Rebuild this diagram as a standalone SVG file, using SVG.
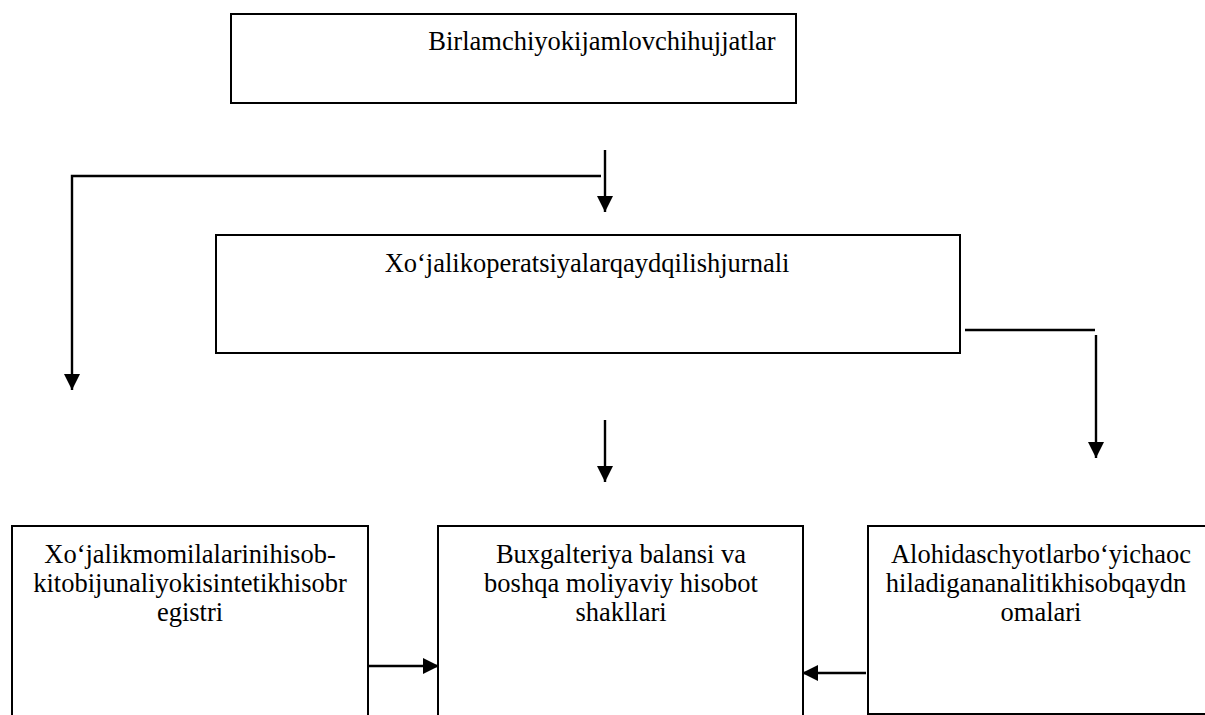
<svg xmlns="http://www.w3.org/2000/svg" width="1205" height="715" viewBox="0 0 1205 715">
<style>
.box{fill:#fff;stroke:#000;stroke-width:2}
.t{font-family:"Liberation Serif","Times New Roman",serif;font-size:26.5px;fill:#000;text-anchor:middle}
.c{fill:none;stroke:#000;stroke-width:2.4}
</style>
<defs>
<marker id="ah" markerUnits="userSpaceOnUse" markerWidth="16" markerHeight="17" viewBox="0 0 16 17" refX="16" refY="8.5" orient="auto">
<path d="M0,0.5 L16,8.5 L0,16.5 Z" fill="#000"/>
</marker>
</defs>
<rect width="1205" height="715" fill="#fff"/>
<g id="n1">
<rect class="box" x="231" y="14" width="565" height="89"/>
<text class="t" x="602" y="50">Birlamchiyokijamlovchihujjatlar</text>
</g>
<g id="n2">
<rect class="box" x="216" y="235" width="744" height="118"/>
<text class="t" x="587" y="272">Xo‘jalikoperatsiyalarqaydqilishjurnali</text>
</g>
<g id="n3">
<rect class="box" x="12" y="526" width="356" height="200"/>
<text class="t" x="190" y="563">Xo‘jalikmomilalarinihisob-</text>
<text class="t" x="190" y="592">kitobijunaliyokisintetikhisobr</text>
<text class="t" x="190" y="621">egistri</text>
</g>
<g id="n4">
<rect class="box" x="438" y="526" width="365" height="200"/>
<text class="t" x="621" y="563">Buxgalteriya balansi va</text>
<text class="t" x="621" y="592">boshqa moliyaviy hisobot</text>
<text class="t" x="621" y="621">shakllari</text>
</g>
<g id="n5">
<rect class="box" x="868" y="526" width="350" height="188"/>
<text class="t" x="1041" y="563">Alohidaschyotlarbo‘yichaoc</text>
<text class="t" x="1036" y="592">hiladigananalitikhisobqaydn</text>
<text class="t" x="1041" y="621">omalari</text>
</g>
<g id="connectors">
<line class="c" x1="605" y1="150" x2="605" y2="212" marker-end="url(#ah)"/>
<polyline class="c" points="601,176 72,176 72,390" marker-end="url(#ah)"/>
<line class="c" x1="965" y1="330" x2="1095" y2="330"/>
<line class="c" x1="1096" y1="335" x2="1096" y2="458" marker-end="url(#ah)"/>
<line class="c" x1="605" y1="420" x2="605" y2="482" marker-end="url(#ah)"/>
<line class="c" x1="369" y1="666" x2="439" y2="666" marker-end="url(#ah)"/>
<line class="c" x1="866" y1="673" x2="802" y2="673" marker-end="url(#ah)"/>
</g>
</svg>
